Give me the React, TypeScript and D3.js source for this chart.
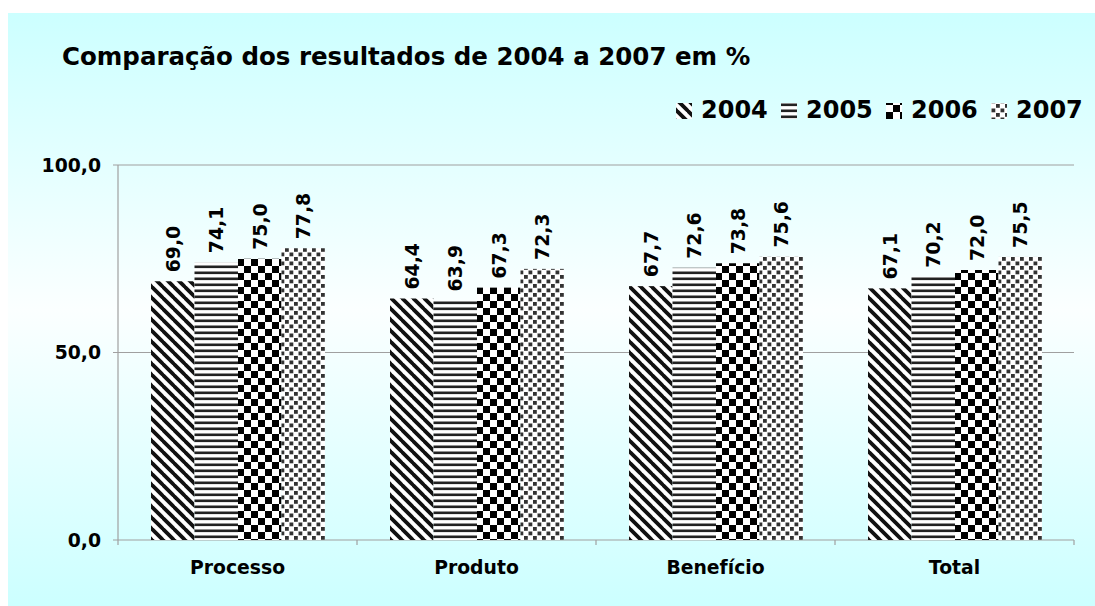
import React from 'react';
import * as d3 from 'd3';

const categories = ['Processo', 'Produto', 'Benefício', 'Total'];
const years = ['2004', '2005', '2006', '2007'];
const s2004 = [69.0, 64.4, 67.7, 67.1];
const s2005 = [74.1, 63.9, 72.6, 70.2];
const s2006 = [75.0, 67.3, 73.8, 72.0];
const s2007 = [77.8, 72.3, 75.6, 75.5];
const series = [s2004, s2005, s2006, s2007];
const yTicks = [0, 50, 100];

const W = 1095;
const H = 606;
const plot = { left: 118, right: 1074, top: 165, bottom: 540 };
const font = "Verdana, 'DejaVu Sans', sans-serif";
const small = 18.8;

const fmt = (v: number) => v.toFixed(1).replace('.', ',');

const App = () => {
    const x = d3.scaleBand<string>()
        .domain(categories)
        .range([plot.left, plot.right]);

    const xInner = d3.scaleBand<string>()
        .domain(years)
        .range([33, 33 + 174]);

    const y = d3.scaleLinear()
        .domain([0, 100])
        .range([plot.bottom, plot.top]);

    const bounds = x.domain().map((c) => x(c) as number).concat([plot.right]);

    return (
        <svg width={W} height={H} style={{ position: 'absolute', left: 0, top: 0, display: 'block' }}>
            <defs>
                <linearGradient id="bg" x1="0" y1="0" x2="0" y2="1">
                    <stop offset="0" stopColor="#ccffff" />
                    <stop offset="0.5" stopColor="#fbffff" />
                    <stop offset="1" stopColor="#ccffff" />
                </linearGradient>
                <pattern id="p2004" width="11" height="11" patternUnits="userSpaceOnUse">
                    <rect width="11" height="11" fill="#fff" />
                    <path d="M-1,-1 L12,12 M-6.5,4.5 L1,12 M4.5,-6.5 L12,1" stroke="#111" strokeWidth="3.8" />
                </pattern>
                <pattern id="p2005" width="6" height="6" patternUnits="userSpaceOnUse">
                    <rect width="6" height="6" fill="#fff" />
                    <rect y="1.5" width="6" height="2.6" fill="#222" />
                </pattern>
                <pattern id="p2006" width="14" height="14" patternUnits="userSpaceOnUse">
                    <rect width="14" height="14" fill="#fff" />
                    <rect x="0" y="0" width="7" height="7" fill="#000" />
                    <rect x="7" y="7" width="7" height="7" fill="#000" />
                </pattern>
                <pattern id="p2007" width="9" height="9" patternUnits="userSpaceOnUse">
                    <rect width="9" height="9" fill="#fff" />
                    <rect x="0.5" y="0.5" width="3.8" height="3.8" fill="#333" />
                    <rect x="5" y="5" width="3.8" height="3.8" fill="#333" />
                </pattern>
            </defs>

            <rect x={8} y={13} width={W - 8} height={H - 13} fill="url(#bg)" />

            <text x={62} y={65} fontFamily={font} fontWeight="bold" fontSize={24.5} fill="#000">
                Comparação dos resultados de 2004 a 2007 em %
            </text>

            {/* legend */}
            {years.map((yr, i) => (
                <g key={yr} transform={`translate(${676 + i * 105},0)`}>
                    <rect x={0} y={103} width={16} height={16} fill={`url(#p${yr})`} />
                    <text x={25} y={118} fontFamily={font} fontWeight="bold" fontSize={24} fill="#000">{yr}</text>
                </g>
            ))}

            {/* gridlines + y axis */}
            {yTicks.map((t) => (
                <g key={t}>
                    <line x1={plot.left - 5} x2={plot.right} y1={y(t)} y2={y(t)} stroke="#a0a0a0" strokeWidth={1.2} />
                    <text x={101} y={y(t)} dy="0.36em" textAnchor="end" fontFamily={font} fontWeight="bold" fontSize={small} fill="#000">
                        {fmt(t)}
                    </text>
                </g>
            ))}
            <line x1={plot.left} x2={plot.left} y1={plot.top} y2={plot.bottom} stroke="#a0a0a0" strokeWidth={1.2} />
            {bounds.map((b, i) => (
                <line key={i} x1={b} x2={b} y1={plot.bottom} y2={plot.bottom + 5} stroke="#a0a0a0" strokeWidth={1.2} />
            ))}

            {/* bars */}
            {categories.map((c, ci) => (
                <g key={c} transform={`translate(${x(c)},0)`}>
                    {years.map((yr, si) => {
                        const v = series[si][ci];
                        const bx = xInner(yr) as number;
                        const bw = xInner.bandwidth();
                        return (
                            <g key={yr}>
                                <rect x={bx} y={y(v)} width={bw} height={plot.bottom - y(v)} fill={`url(#p${yr})`} />
                                <text
                                    transform={`translate(${bx + bw / 2},${y(v) - 9}) rotate(-90)`}
                                    dy="0.36em"
                                    fontFamily={font}
                                    fontWeight="bold"
                                    fontSize={small}
                                    fill="#000"
                                >
                                    {fmt(v)}
                                </text>
                            </g>
                        );
                    })}
                    <text x={x.bandwidth() / 2} y={574} textAnchor="middle" fontFamily={font} fontWeight="bold" fontSize={small} fill="#000">
                        {c}
                    </text>
                </g>
            ))}
        </svg>
    );
};

export default App;
